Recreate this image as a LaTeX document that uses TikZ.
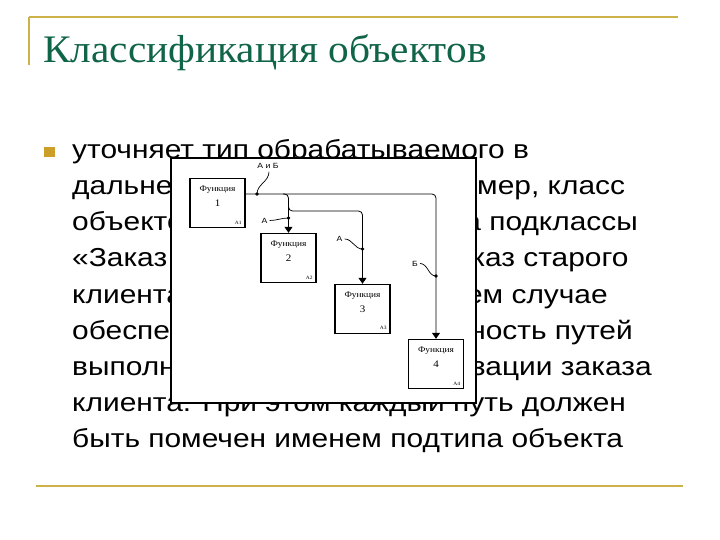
\documentclass[tikz,border=0pt]{standalone}
\usepackage{fontspec}
\setmainfont{Liberation Serif}
\newfontfamily\titlefont[FakeStretch=1.06]{Liberation Serif}
\newfontfamily\bodyfont[FakeStretch=1.15]{Liberation Sans}
\newfontfamily\boxfont[FakeStretch=1.1]{Liberation Serif}
\usetikzlibrary{arrows.meta,positioning}
\definecolor{slidegold}{RGB}{204,178,72}
\definecolor{titlegreen}{RGB}{16,100,72}
\definecolor{bulletgold}{RGB}{204,160,40}

\begin{document}
\begin{tikzpicture}[x=1bp,y=-1bp,
rule/.style={slidegold,line width=2.4bp},
bodyline/.style={anchor=base west,inner sep=0pt,font=\bodyfont\fontsize{26bp}{26bp}\selectfont},
fn/.style={draw,line width=1.4bp,fill=white,minimum width=55bp,minimum height=49bp,inner sep=0pt},
fntitle/.style={inner sep=0pt,font=\boxfont\fontsize{8.5bp}{8.5bp}\selectfont},
fnnum/.style={inner sep=0pt,font=\boxfont\fontsize{10bp}{10bp}\selectfont},
fntag/.style={inner sep=0pt,anchor=south east,font=\boxfont\fontsize{5bp}{5bp}\selectfont},
flow/.style={line width=0.8bp,rounded corners=4bp},
lab/.style={inner sep=0pt,font=\bodyfont\fontsize{7.5bp}{7.5bp}\selectfont},
squig/.style={line width=0.7bp}]
\fill[white] (0,0) rectangle (720,540);
\useasboundingbox (0,0) rectangle (720,540);

% slide frame
\draw[rule] (29,17) -- (678,17);
\draw[rule] (29,17) -- (29,65);
\draw[rule] (36,486) -- (683,486);
\node[anchor=base west,inner sep=0pt,text=titlegreen,font=\titlefont\fontsize{39bp}{39bp}\selectfont] (title) at (43,63) {Классификация объектов};

% bullet text
\fill[bulletgold] (44,147) rectangle (55,157);
\node[bodyline] (t1) at (72,159) {уточняет тип обрабатываемого в};
\node[bodyline] (t2) at (72,195) {дальнейшем объекта. Например, класс};
\node[bodyline] (t3) at (72,231) {объектов «Заказ» делится на подклассы};
\node[bodyline] (t4) at (72,267) {«Заказ нового клиента», «Заказ старого};
\node[bodyline] (t5) at (72,303) {клиента», причем в последнем случае};
\node[bodyline] (t6) at (72,339) {обеспечивается множественность путей};
\node[bodyline] (t7) at (72,375) {выполнения процесса реализации заказа};
\node[bodyline] (t8) at (72,411) {клиента. При этом каждый путь должен};
\node[bodyline] (t9) at (72,447) {быть помечен именем подтипа объекта};

% pasted diagram
\draw[fill=white,line width=1.2bp] (171,158) rectangle (476,403);
\foreach \n/\x/\y in {1/217.5/203,2/288.5/258,3/362.5/309,4/436/364}{
  \node[fn] (f\n) at (\x,\y) {};
  \node[fntitle] at ([yshift=-12bp]f\n.north) {Функция};
  \node[fnnum] at ([yshift=0bp]f\n.center) {\n};
  \node[fntag] at ([xshift=-4bp,yshift=4bp]f\n.south east) {A\n};
}

\coordinate (dAB) at (257,194);
\coordinate (br2) at (283,194);
\coordinate (br3) at (288.5,205);
\coordinate (k3) at (362.5,211);
\coordinate (d2) at (288.5,218);
\coordinate (d3) at (362.5,249);
\coordinate (d4) at (436,276);

\draw[flow,-{Triangle[width=8bp,length=6bp]}] ([yshift=9bp]f1.east) -| (f4.north);
\draw[flow,-{Triangle[width=8bp,length=6bp]}] (br2) -| (f2.north);
\draw[flow,-{Triangle[width=8bp,length=6bp]}] (br3) |- (k3) -- (f3.north);

\foreach \d in {dAB,d2,d3,d4}
  \fill (\d) circle (1.8bp);

\node[lab] (lAB) at (268,166) {А и Б};
\node[lab] (lA2) at (264.5,220.5) {А};
\node[lab] (lA3) at (339.5,239) {А};
\node[lab] (lB) at (415,263.5) {Б};
\draw[squig] ([xshift=1bp,yshift=-3bp]lAB.south) to[out=-90,in=90] (dAB);
\draw[squig] ([xshift=2bp]lA2.east) to[out=0,in=180] (d2);
\draw[squig] ([xshift=2bp]lA3.east) to[out=0,in=180] (d3);
\draw[squig] ([xshift=2bp]lB.east) to[out=0,in=180] (d4);
\end{tikzpicture}
\end{document}
